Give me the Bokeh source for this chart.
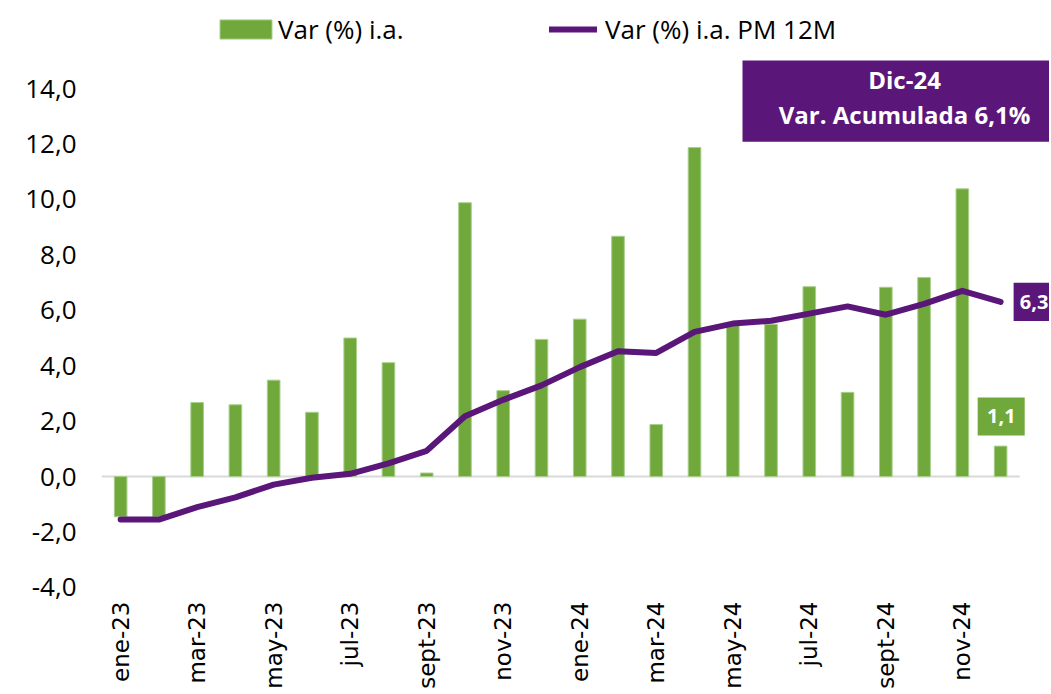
from bokeh.plotting import figure
from bokeh.models import (FixedTicker, Range1d, Legend, LegendItem, BoxAnnotation, Label)
from bokeh.embed import file_html
from bokeh.resources import INLINE

# ---------------- data ----------------
months = ["ene-23", "feb-23", "mar-23", "abr-23", "may-23", "jun-23", "jul-23", "ago-23",
          "sept-23", "oct-23", "nov-23", "dic-23", "ene-24", "feb-24", "mar-24", "abr-24",
          "may-24", "jun-24", "jul-24", "ago-24", "sept-24", "oct-24", "nov-24", "dic-24"]
var_ia = [-1.45, -1.45, 2.67, 2.59, 3.48, 2.32, 5.0, 4.11, 0.13, 9.88, 3.1, 4.95,
          5.68, 8.67, 1.88, 11.87, 5.45, 5.5, 6.85, 3.04, 6.83, 7.18, 10.38, 1.1]
var_pm12 = [-1.55, -1.55, -1.1, -0.75, -0.29, -0.04, 0.1, 0.48, 0.93, 2.18, 2.77, 3.29,
            3.95, 4.52, 4.46, 5.22, 5.52, 5.62, 5.88, 6.14, 5.84, 6.23, 6.7, 6.3]
y_ticks = [-4, -2, 0, 2, 4, 6, 8, 10, 12, 14]
y_tick_labels = ["-4,0", "-2,0", "0,0", "2,0", "4,0", "6,0", "8,0", "10,0", "12,0", "14,0"]
label_last_bar = "1,1"
label_last_line = "6,3"
box_title = "Dic-24"
box_text = "Var. Acumulada 6,1%"
name_bars = "Var (%) i.a."
name_line = "Var (%) i.a. PM 12M"

GREEN = "#70A83B"
PURPLE = "#5A1779"
idx = list(range(len(months)))

FRAME_W = 948
px_x = 38.26
x_end = -0.5 + FRAME_W / px_x
p = figure(frame_width=FRAME_W, frame_height=595, min_border_left=101, min_border_right=0,
           min_border_top=0, min_border_bottom=90,
           x_range=Range1d(-0.5, x_end), y_range=Range1d(-4.289, 17.175),
           output_backend="svg", toolbar_location=None, tools="",
           background_fill_color="white", border_fill_color="white")
p.outline_line_color = None
p.xgrid.grid_line_color = None
p.ygrid.grid_line_color = None

# zero line
p.line([-0.5, len(months) - 0.5], [0, 0], line_color="#D9D9D9", line_width=2)

bars = p.vbar(x=idx, top=var_ia, width=0.33, fill_color=GREEN,
              line_color="#A8CF8C", line_width=1)
ln = p.line(idx, var_pm12, line_color=PURPLE, line_width=6, line_join="round", line_cap="round")

# axes
p.yaxis.ticker = FixedTicker(ticks=y_ticks)
p.yaxis.major_label_overrides = {t: l for t, l in zip(y_ticks, y_tick_labels)}
p.yaxis.axis_line_color = None
p.yaxis.major_tick_line_color = None
p.yaxis.minor_tick_line_color = None
p.yaxis.major_tick_out = 0
p.yaxis.major_tick_in = 0
p.yaxis.major_label_standoff = 25
p.yaxis.major_label_text_font = "Open Sans"
p.yaxis.major_label_text_font_size = "26px"
p.yaxis.major_label_text_color = "#000000"

xt = idx[::2]
p.xaxis.ticker = FixedTicker(ticks=xt)
p.xaxis.major_label_overrides = {i: months[i] for i in xt}
p.xaxis.major_label_orientation = 3.14159265 / 2
p.xaxis.axis_line_color = None
p.xaxis.major_tick_line_color = None
p.xaxis.minor_tick_line_color = None
p.xaxis.major_tick_out = 0
p.xaxis.major_tick_in = 0
p.xaxis.major_label_standoff = 6
p.xaxis.major_label_text_font = "DejaVu Sans"
p.xaxis.major_label_text_font_size = "23px"
p.xaxis.major_label_text_color = "#000000"

# legends (two, so each swatch can have its own size)
common = dict(orientation="horizontal", padding=0, margin=0, border_line_alpha=0,
              background_fill_alpha=0, label_text_font="Open Sans",
              label_text_font_size="26px", label_text_color="#000000")
legend1 = Legend(items=[LegendItem(label=name_bars, renderers=[bars])],
                 location=(112, 548), glyph_width=65, glyph_height=24, label_standoff=0,
                 **common)
legend2 = Legend(items=[LegendItem(label=name_line, renderers=[ln])],
                 location=(448, 548), glyph_width=48, glyph_height=20, label_standoff=8,
                 **common)
p.add_layout(legend1)
p.add_layout(legend2)

# top-right summary box
p.add_layout(BoxAnnotation(left=-0.5 + (742 - 101) / px_x, right=x_end,
                           top=15.01, bottom=12.08,
                           fill_color=PURPLE, fill_alpha=1, line_alpha=0))
p.add_layout(Label(x=20.49, y=14.32, text=box_title, text_align="center", text_baseline="middle",
                   text_font="Open Sans", text_font_style="bold", text_font_size="24px",
                   text_color="white"))
p.add_layout(Label(x=20.49, y=13.06, text=box_text, text_align="center", text_baseline="middle",
                   text_font="Open Sans", text_font_style="bold", text_font_size="24px",
                   text_color="white"))

# last line value label
last = len(months) - 1
p.add_layout(BoxAnnotation(left=last + 0.34, right=x_end,
                           top=var_pm12[-1] + 0.69, bottom=var_pm12[-1] - 0.69,
                           fill_color=PURPLE, fill_alpha=1, line_alpha=0))
p.add_layout(Label(x=last + 0.5, y=var_pm12[-1], text=label_last_line, text_align="left",
                   text_baseline="middle", text_font="Open Sans", text_font_style="bold",
                   text_font_size="20px", text_color="white"))

# last bar value label
p.add_layout(BoxAnnotation(left=last - 0.6, right=last + 0.63,
                           top=var_ia[-1] + 1.75, bottom=var_ia[-1] + 0.38,
                           fill_color=GREEN, fill_alpha=1, line_alpha=0))
p.add_layout(Label(x=last + 0.02, y=var_ia[-1] + 1.07, text=label_last_bar, text_align="center",
                   text_baseline="middle", text_font="Open Sans", text_font_style="bold",
                   text_font_size="20px", text_color="white"))

open("out.html", "w").write(file_html(p, INLINE))
